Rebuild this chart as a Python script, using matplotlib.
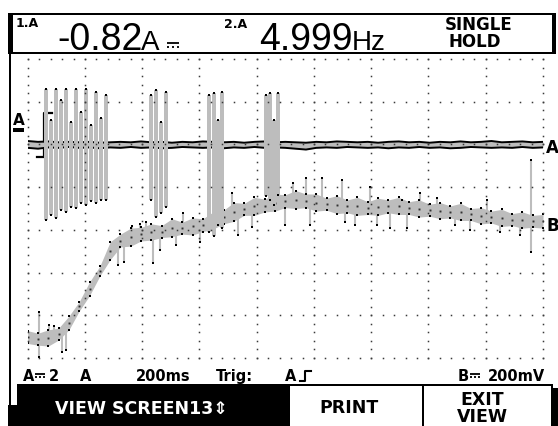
import numpy as np
import matplotlib
matplotlib.use("Agg")
import matplotlib.pyplot as plt
from matplotlib.patches import Rectangle

# ScopeMeter screen: 200 ms/div (9 div shown), vertical values in screen divisions (7 div shown)
t_env = list(range(0, 1801, 36))

# trace A (current) min/max envelope, div
a_hi = [5.08, 5.06, 5.07, 5.05, 5.06, 5.05, 5.06, 5.04, 5.05, 5.06,
        5.05, 5.07, 5.05, 5.06, 5.04, 5.06, 5.05, 5.07, 5.06, 5.05,
        5.06, 5.04, 5.06, 5.07, 5.05, 5.06, 5.05, 5.04, 5.06, 5.05,
        5.07, 5.06, 5.05, 5.06, 5.04, 5.06, 5.07, 5.05, 5.06, 5.04,
        5.06, 5.05, 5.07, 5.05, 5.06, 5.08, 5.05, 5.06, 5.07, 5.05,
        5.06]
a_lo = [4.92, 4.90, 4.93, 4.92, 4.94, 4.92, 4.93, 4.91, 4.93, 4.92,
        4.94, 4.92, 4.93, 4.91, 4.92, 4.94, 4.93, 4.92, 4.93, 4.91,
        4.93, 4.92, 4.94, 4.92, 4.93, 4.92, 4.90, 4.88, 4.92, 4.93,
        4.92, 4.94, 4.93, 4.92, 4.93, 4.91, 4.93, 4.92, 4.94, 4.92,
        4.93, 4.91, 4.92, 4.94, 4.93, 4.92, 4.93, 4.92, 4.94, 4.92,
        4.93]

# trace B (voltage) min/max envelope, div
b_hi = [0.64, 0.58, 0.66, 0.70, 0.98, 1.32, 1.78, 2.15, 2.72, 2.90,
        3.04, 3.06, 3.14, 3.10, 3.26, 3.18, 3.28, 3.26, 3.42, 3.46,
        3.64, 3.62, 3.76, 3.72, 3.84, 3.82, 3.92, 3.84, 3.84, 3.74,
        3.80, 3.70, 3.76, 3.66, 3.74, 3.70, 3.76, 3.66, 3.70, 3.60,
        3.64, 3.56, 3.62, 3.50, 3.52, 3.44, 3.48, 3.38, 3.42, 3.34,
        3.36]
b_lo = [0.34, 0.30, 0.28, 0.42, 0.66, 1.10, 1.46, 1.92, 2.30, 2.60,
        2.62, 2.74, 2.76, 2.82, 2.84, 2.90, 2.88, 2.96, 3.02, 3.14,
        3.20, 3.34, 3.34, 3.42, 3.44, 3.52, 3.50, 3.52, 3.44, 3.46,
        3.38, 3.40, 3.34, 3.36, 3.34, 3.40, 3.36, 3.36, 3.30, 3.32,
        3.26, 3.28, 3.22, 3.22, 3.14, 3.16, 3.08, 3.10, 3.04, 3.06,
        3.04]

# current pulses on trace A (ms, top div, bottom div)
pulse_t = [64, 81, 99, 116, 134, 151, 169, 186, 204, 221, 239, 256, 274,
           431, 448, 466, 483,
           634, 651, 665, 679,
           833, 847, 861, 874]
pulse_hi = [6.30, 5.57, 6.30, 6.04, 6.30, 5.53, 6.30, 5.76, 6.30, 5.46, 6.23, 5.62, 6.16,
            6.16, 6.28, 5.53, 6.23,
            6.16, 6.20, 5.57, 6.23,
            6.16, 6.20, 5.57, 6.20]
pulse_lo = [3.23, 3.35, 3.28, 3.47, 3.42, 3.54, 3.51, 3.63, 3.58, 3.68, 3.63, 3.70, 3.70,
            3.70, 3.30, 3.40, 3.54,
            2.95, 2.86, 3.11, 3.04,
            3.79, 3.70, 3.58, 3.82]

# glitches on trace B (ms, tip div)
spike_t = [39, 39, 74, 92, 120, 134, 316, 337, 365, 392, 413, 438, 462,
           518, 542, 602, 714, 735, 784, 846, 899, 927, 973, 987,
           1028, 1098, 1109, 1143, 1196, 1221, 1266, 1307, 1325,
           1371, 1430, 1493, 1545, 1604, 1650, 1720, 1758, 1758]
spike_y = [1.08, 0.02, 0.77, 0.75, 0.14, 0.19, 2.18, 2.25, 3.09, 3.14, 3.18, 2.22, 2.53,
           2.65, 3.40, 2.72, 3.86, 2.88, 3.07, 3.93, 3.11, 4.10, 4.21, 3.11,
           4.21, 4.17, 3.18, 3.11, 4.00, 3.11, 3.04, 3.70, 3.04,
           3.86, 3.75, 3.11, 3.00, 3.70, 2.95, 2.88, 4.64, 2.48]

GREY = "#bdbdbd"
BOLD = ["DejaVu Sans"]
LCD = ["Liberation Sans", "DejaVu Sans"]

fig = plt.figure(figsize=(5.58, 4.26), dpi=100, facecolor="white")

# background layer in screen pixels
bg = fig.add_axes([0, 0, 1, 1])
bg.set_xlim(0, 558)
bg.set_ylim(426, 0)
bg.axis("off")


def dc_sign(x, y, w):
    # "direct current" sign: solid bar over three dashes (no installed font has it)
    bg.plot([x, x + w], [y, y], color="black", lw=1.3, solid_capstyle="butt")
    seg = w / 5
    for i in range(3):
        bg.plot([x + 2 * i * seg, x + (2 * i + 1) * seg], [y + 3.5, y + 3.5],
                color="black", lw=1.3, solid_capstyle="butt")


# header box
bg.add_patch(Rectangle((8, 12.5), 548, 41, color="black", lw=0))
bg.add_patch(Rectangle((12.5, 15), 539, 36.5, color="white", lw=0))
# left frame line
bg.add_patch(Rectangle((8.5, 53), 2.5, 353, color="black", lw=0))

bg.text(16, 27, "1.A", fontsize=9, fontweight="bold", family=BOLD)
bg.text(57, 50, "-0.82", fontsize=27, family=LCD)
bg.text(141, 50, "A", fontsize=20, family=LCD)
dc_sign(167, 43, 12)
bg.text(224, 28, "2.A", fontsize=9, fontweight="bold", family=BOLD)
bg.text(259, 50, "4.999", fontsize=27, family=LCD)
bg.text(352, 50, "Hz", fontsize=20, family=LCD)
bg.text(445, 30, "SINGLE", fontsize=12, fontweight="bold", family=BOLD)
bg.text(448, 47, "HOLD", fontsize=12, fontweight="bold", family=BOLD)

# bottom status line
st = dict(fontsize=10.5, fontweight="bold", family=BOLD)
bg.text(23, 381, "A", **st)
dc_sign(35, 373.5, 10)
bg.text(49, 381, "2", **st)
bg.text(80, 381, "A", **st)
bg.text(136, 381, "200ms", **st)
bg.text(216, 381, "Trig:", **st)
bg.text(285, 381, "A", **st)
bg.plot([300, 305, 305, 311], [380.5, 380.5, 370.5, 370.5], color="black", lw=1.5)
bg.text(458, 381, "B", **st)
dc_sign(470, 373.5, 10)
bg.text(545, 381, "200mV", ha="right", **st)

# soft-key bar
bg.add_patch(Rectangle((17, 384), 536, 42, color="black", lw=0))
bg.add_patch(Rectangle((8, 405), 10, 21, color="black", lw=0))
bg.add_patch(Rectangle((289.5, 386), 132.5, 40, color="white", lw=0))
bg.add_patch(Rectangle((424, 386), 127, 40, color="white", lw=0))
bg.add_patch(Rectangle((553, 388), 5, 38, color="black", lw=0))
kb = dict(fontsize=12.5, fontweight="bold", family=BOLD)
bg.text(55, 413.5, "VIEW SCREEN13\u21d5", color="white", **kb)
bg.text(349, 413, "PRINT", ha="center", **kb)
bg.text(482, 405, "EXIT", ha="center", **kb)
bg.text(482, 422, "VIEW", ha="center", **kb)

# trace markers
bg.text(13, 125, "A", fontsize=11, fontweight="bold", family=BOLD)
bg.add_patch(Rectangle((13, 128), 11, 4, color="black", lw=0))
bg.plot([37, 44, 44, 52], [157, 157, 113, 113], color="black", lw=1.6)
bg.text(546, 153, "A", fontsize=12, fontweight="bold", family=BOLD)
bg.text(546, 231, "B", fontsize=12, fontweight="bold", family=BOLD)

# waveform area
ax = fig.add_axes([27.7 / 558, 68 / 426, 515.3 / 558, 299 / 426])
ax.set_xlim(0, 1800)
ax.set_ylim(0, 7)
ax.axis("off")

# graticule dots
ys = np.arange(0, 7.01, 0.2)
for gx in range(0, 1801, 200):
    ax.plot([gx] * len(ys), ys, ls="none", marker="s", ms=1.1, mew=0,
            color="#3a3a3a", clip_on=False, zorder=6)
xs = np.arange(0, 1801, 40)
for gy in range(0, 8):
    ax.plot(xs, [gy] * len(xs), ls="none", marker="s", ms=1.1, mew=0,
            color="#3a3a3a", clip_on=False, zorder=6)

# trace A baseline
ax.fill_between(t_env, a_lo, a_hi, color=GREY, lw=0, zorder=2)
ax.plot(t_env, a_hi, color="black", lw=1.4, zorder=3)
ax.plot(t_env, a_lo, color="black", lw=1.4, zorder=3)

# trace B
b_hi_arr = np.array(b_hi)
b_lo_arr = np.array(b_lo)
b_mid = (b_hi_arr + b_lo_arr) / 2
ax.fill_between(t_env, b_lo, b_hi, color=GREY, lw=0, zorder=2)
base = np.interp(spike_t, t_env, b_mid)
ax.vlines(spike_t, base, spike_y, color=GREY, lw=1.5, zorder=2)
ax.plot(spike_t, spike_y, ls="none", marker="s", ms=1.6, mew=0, color="black", zorder=4)
ax.plot(t_env, b_hi, ls="none", marker="s", ms=1.6, mew=0, color="black", zorder=4)
ax.plot(t_env, b_lo, ls="none", marker="s", ms=1.6, mew=0, color="black", zorder=4)
ax.plot(t_env, b_mid, ls="none", marker="s", ms=1.4, mew=0, color="#333333", zorder=4)

# trace A pulses
p_hi = np.array(pulse_hi)
p_lo = np.array(pulse_lo)
ax.bar(pulse_t, p_hi - p_lo, bottom=p_lo, width=15, color=GREY, lw=0, zorder=5)
ax.plot(pulse_t, pulse_hi, ls="none", marker="s", ms=1.6, mew=0, color="black", zorder=7)
ax.plot(pulse_t, pulse_lo, ls="none", marker="s", ms=1.6, mew=0, color="black", zorder=7)

fig.savefig("out.png", dpi=100, facecolor="white")
